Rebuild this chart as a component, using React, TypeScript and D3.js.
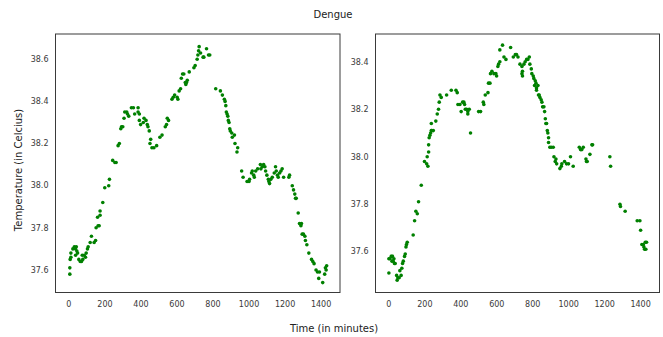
import { useEffect, useRef } from 'react';
import * as d3 from 'd3';

const leftTime = [
  5, 5, 7, 11, 11, 22, 30, 41, 37, 44, 37, 48, 55, 63, 70, 77, 74, 85, 92, 96,
  103, 107, 118, 125, 140, 148, 151, 162, 168, 159, 173, 173, 188, 199, 221, 225, 243, 255, 262, 273,
  280, 288, 292, 299, 306, 310, 321, 325, 332, 347, 358, 365, 384, 384, 391, 391, 398, 413, 417, 428,
  435, 439, 446, 454, 450, 461, 472, 487, 505, 517, 535, 542, 546, 553, 572, 579, 587, 601, 605, 612,
  620, 624, 631, 638, 646, 653, 657, 649, 668, 694, 701, 712, 716, 720, 723, 731, 745, 749, 764, 775,
  782, 815, 841, 852, 863, 867, 871, 874, 878, 882, 885, 889, 893, 896, 904, 907, 919, 922, 937, 933,
  959, 967, 989, 1000, 1003, 1014, 1018, 1026, 1029, 1037, 1048, 1063, 1066, 1074, 1081, 1088, 1092, 1099, 1107, 1110,
  1114, 1121, 1129, 1140, 1147, 1151, 1158, 1162, 1170, 1177, 1184, 1192, 1221, 1225, 1240, 1247, 1254, 1258, 1262, 1273,
  1280, 1288, 1291, 1295, 1302, 1310, 1313, 1321, 1332, 1347, 1354, 1361, 1372, 1380, 1391, 1387, 1409, 1420, 1424, 1431,
  1428,
];
const leftTemp = [
  37.58, 37.61, 37.65, 37.66, 37.68, 37.7, 37.71, 37.71, 37.7, 37.69, 37.67, 37.68, 37.65, 37.64, 37.64, 37.65, 37.67, 37.67, 37.66, 37.68,
  37.7, 37.71, 37.73, 37.76, 37.73, 37.74, 37.8, 37.81, 37.81, 37.85, 37.86, 37.88, 37.92, 37.99, 38.0, 38.03, 38.12, 38.11, 38.11, 38.19,
  38.2, 38.27, 38.28, 38.28, 38.32, 38.35, 38.35, 38.34, 38.33, 38.37, 38.37, 38.34, 38.37, 38.35, 38.34, 38.31, 38.29, 38.3, 38.32, 38.31,
  38.29, 38.28, 38.26, 38.22, 38.2, 38.18, 38.18, 38.19, 38.23, 38.24, 38.28, 38.29, 38.32, 38.31, 38.41, 38.42, 38.43, 38.42, 38.41, 38.45,
  38.46, 38.51, 38.53, 38.53, 38.49, 38.49, 38.5, 38.48, 38.54, 38.56, 38.57, 38.6, 38.62, 38.64, 38.66, 38.63, 38.61, 38.61, 38.65, 38.62,
  38.62, 38.46, 38.45, 38.43, 38.41, 38.4, 38.38, 38.35, 38.34, 38.33, 38.31, 38.3, 38.27, 38.26, 38.25, 38.23, 38.24, 38.2, 38.18, 38.16,
  38.07, 38.04, 38.02, 38.02, 38.03, 38.06, 38.07, 38.05, 38.04, 38.07, 38.08, 38.1, 38.08, 38.09, 38.1, 38.09, 38.07, 38.05, 38.03, 38.02,
  38.01, 38.03, 38.04, 38.06, 38.09, 38.07, 38.05, 38.04, 38.06, 38.07, 38.08, 38.04, 38.04, 38.05, 38.0, 37.98, 37.96, 37.94, 37.94, 37.87,
  37.82, 37.81, 37.82, 37.77, 37.77, 37.76, 37.74, 37.72, 37.68, 37.65, 37.64, 37.63, 37.6, 37.59, 37.59, 37.56, 37.54, 37.58, 37.61, 37.62,
  37.6,
];

const rightTime = [
  0, 0, 6, 13, 20, 28, 24, 31, 35, 17, 43, 50, 46, 57, 68, 61, 72, 76, 80, 87,
  91, 95, 98, 102, 135, 143, 150, 158, 165, 180, 198, 210, 217, 213, 221, 221, 224, 228, 232, 236,
  239, 247, 236, 261, 269, 276, 280, 284, 291, 321, 347, 373, 380, 384, 395, 402, 410, 417, 421, 425,
  432, 439, 439, 447, 454, 499, 510, 525, 528, 536, 551, 554, 562, 565, 573, 584, 595, 599, 606, 610,
  617, 617, 632, 640, 651, 677, 692, 703, 710, 718, 729, 740, 743, 740, 743, 751, 758, 766, 773, 781,
  784, 792, 795, 803, 806, 814, 818, 810, 821, 829, 821, 832, 836, 840, 847, 851, 855, 862, 866, 870,
  873, 877, 881, 884, 888, 888, 895, 903, 914, 918, 925, 929, 933, 951, 959, 962, 977, 988, 999, 1010,
  1025, 1059, 1066, 1073, 1081, 1096, 1099, 1103, 1118, 1129, 1133, 1229, 1233, 1285, 1288, 1314, 1381, 1396, 1400, 1407,
  1415, 1418, 1426, 1433, 1422, 1429,
];
const rightTemp = [
  37.51, 37.57, 37.57, 37.58, 37.58, 37.57, 37.56, 37.55, 37.55, 37.56, 37.5, 37.49, 37.48, 37.49, 37.5, 37.52, 37.53, 37.55, 37.56, 37.58,
  37.59, 37.62, 37.63, 37.64, 37.67, 37.73, 37.77, 37.76, 37.81, 37.88, 37.98, 37.97, 37.96, 38.0, 38.02, 38.05, 38.08, 38.09, 38.1, 38.11,
  38.11, 38.11, 38.14, 38.15, 38.18, 38.2, 38.23, 38.26, 38.25, 38.26, 38.28, 38.28, 38.27, 38.22, 38.22, 38.19, 38.23, 38.23, 38.22, 38.2,
  38.2, 38.19, 38.18, 38.2, 38.1, 38.19, 38.19, 38.23, 38.22, 38.26, 38.27, 38.31, 38.31, 38.35, 38.36, 38.35, 38.35, 38.34, 38.38, 38.39,
  38.4, 38.45, 38.47, 38.42, 38.41, 38.46, 38.42, 38.43, 38.43, 38.42, 38.39, 38.38, 38.36, 38.35, 38.34, 38.39, 38.4, 38.41, 38.41, 38.42,
  38.39, 38.37, 38.35, 38.34, 38.33, 38.32, 38.31, 38.3, 38.29, 38.3, 38.28, 38.26, 38.26, 38.25, 38.24, 38.23, 38.21, 38.21, 38.19, 38.16,
  38.14, 38.14, 38.11, 38.1, 38.08, 38.06, 38.04, 38.04, 38.04, 38.0, 37.98, 37.99, 37.97, 37.95, 37.96, 37.97, 37.98, 37.97, 37.97, 38.0,
  37.96, 38.04, 38.03, 38.03, 38.04, 37.99, 37.98, 37.98, 38.01, 38.05, 38.05, 38.0, 37.96, 37.8, 37.79, 37.77, 37.73, 37.73, 37.69, 37.63,
  37.63, 37.62, 37.64, 37.64, 37.61, 37.61,
];

const xTicks = [0, 200, 400, 600, 800, 1000, 1200, 1400];
const leftYTicks = [37.6, 37.8, 38.0, 38.2, 38.4, 38.6];
const rightYTicks = [37.6, 37.8, 38.0, 38.2, 38.4];

const width = 663;
const height = 337;

export default function App() {
  const svgRef = useRef<SVGSVGElement>(null);

  useEffect(() => {
    document.body.style.margin = '0';
    if (!svgRef.current) return;

    const svg = d3.select(svgRef.current);
    svg.selectAll('*').remove();

    const font = 'DejaVu Sans, sans-serif';
    const top = 34;
    const bottom = 292.5;

    const panels = [
      { x0: 55.5, x1: 340, time: leftTime, temp: leftTemp, yDomain: [37.493, 38.72], yTicks: leftYTicks },
      { x0: 375.5, x1: 659.5, time: rightTime, temp: rightTemp, yDomain: [37.428, 38.517], yTicks: rightYTicks },
    ];

    panels.forEach((p) => {
      const x = d3.scaleLinear().domain([-74.5, 1505]).range([p.x0, p.x1]);
      const y = d3.scaleLinear().domain(p.yDomain).range([bottom, top]);

      const g = svg.append('g');

      g.append('rect')
        .attr('x', p.x0)
        .attr('y', top)
        .attr('width', p.x1 - p.x0)
        .attr('height', bottom - top)
        .attr('fill', 'white')
        .attr('stroke', '#3a3a3a')
        .attr('stroke-width', 1);

      g.selectAll('circle')
        .data(p.time.map((t, i) => [t, p.temp[i]]))
        .join('circle')
        .attr('cx', (d) => x(d[0]))
        .attr('cy', (d) => y(d[1]))
        .attr('r', 1.8)
        .attr('fill', '#008000');

      g.selectAll('.xt')
        .data(xTicks)
        .join('text')
        .attr('class', 'xt')
        .attr('x', (d) => x(d))
        .attr('y', 307)
        .attr('text-anchor', 'middle')
        .style('font-family', font)
        .style('font-size', '8px')
        .attr('fill', '#3a3a3a')
        .text((d) => String(d));

      g.selectAll('.yt')
        .data(p.yTicks)
        .join('text')
        .attr('class', 'yt')
        .attr('x', p.x0 - 7)
        .attr('y', (d) => y(d))
        .attr('dy', '0.35em')
        .attr('text-anchor', 'end')
        .style('font-family', font)
        .style('font-size', '8px')
        .attr('fill', '#3a3a3a')
        .text((d) => d3.format('.1f')(d));
    });

    svg.append('text')
      .attr('x', 333)
      .attr('y', 18)
      .attr('text-anchor', 'middle')
      .style('font-family', font)
      .style('font-size', '10px')
      .attr('fill', '#222')
      .text('Dengue');

    svg.append('text')
      .attr('x', 334)
      .attr('y', 332)
      .attr('text-anchor', 'middle')
      .style('font-family', font)
      .style('font-size', '10px')
      .attr('fill', '#222')
      .text('Time (in minutes)');

    svg.append('text')
      .attr('transform', 'rotate(-90)')
      .attr('x', -170)
      .attr('y', 22)
      .attr('text-anchor', 'middle')
      .style('font-family', font)
      .style('font-size', '10px')
      .attr('fill', '#222')
      .text('Temperature (in Celcius)');
  }, []);

  return <svg ref={svgRef} width={width} height={height} style={{ display: 'block' }}></svg>;
}
